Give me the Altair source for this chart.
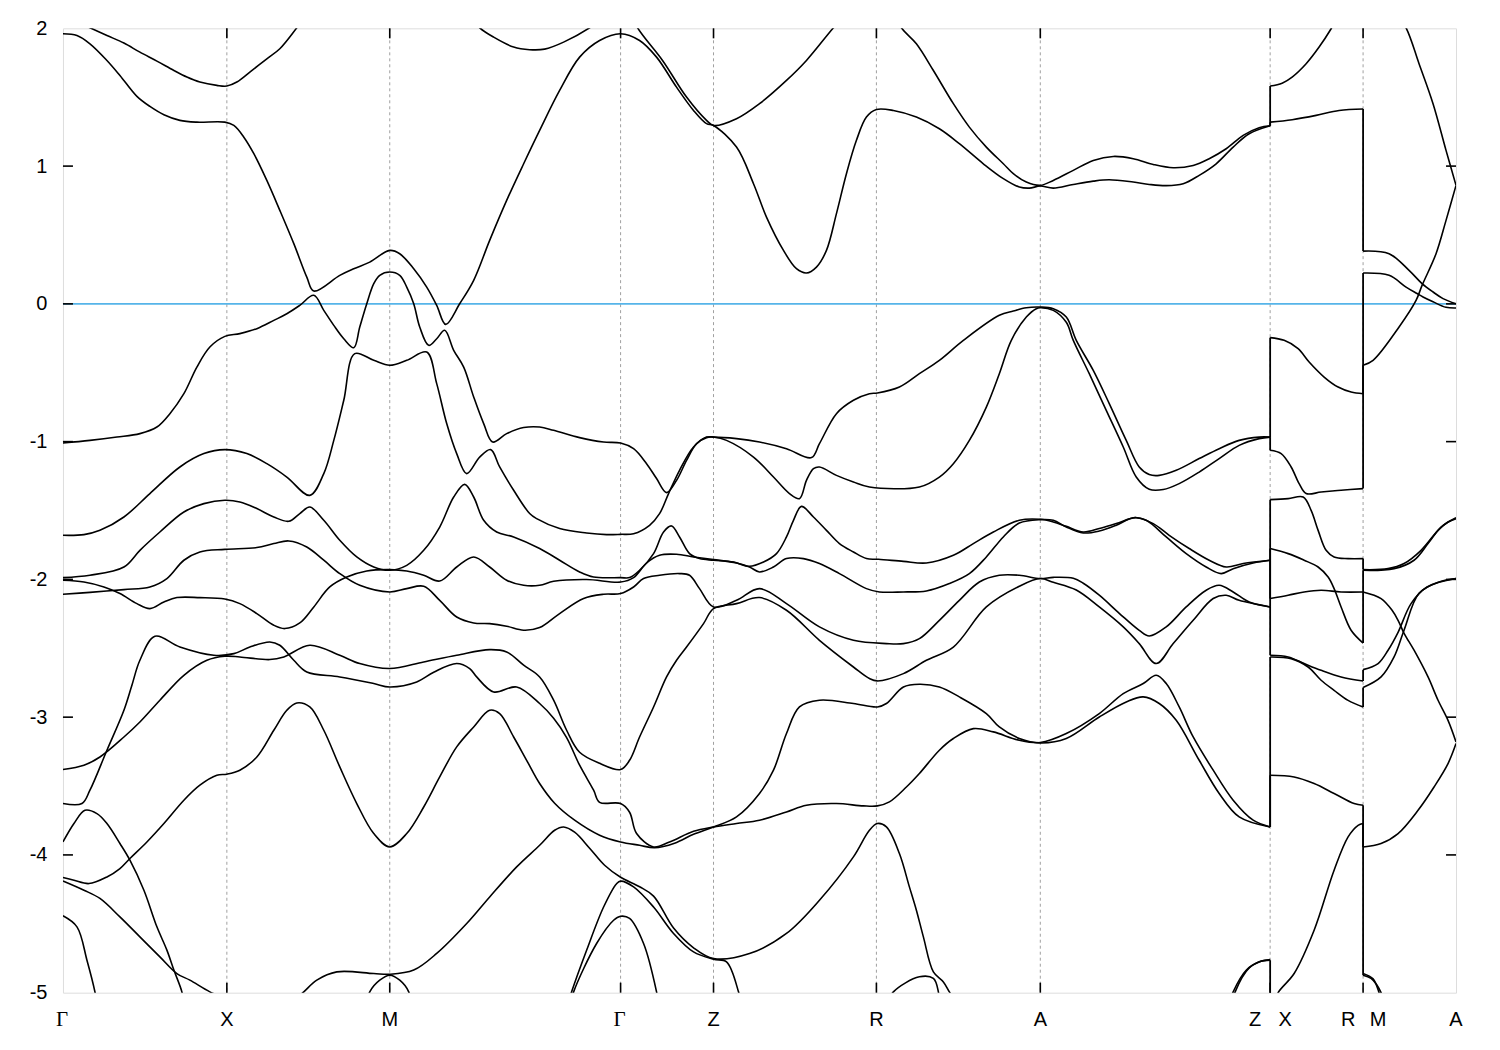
import altair as alt
import pandas as pd

# ---------------- data ----------------
# k: position along the k-path (arbitrary path-length units), E: energy (eV)
sym_k = [164, 327, 558, 651, 814, 978, 1208, 1301]          # interior high-symmetry points
ytick_vals = [-4, -3, -2, -1, 0, 1]

label_main = ["X", "M", "Z", "R", "A", "A"]
label_main_k = [164, 327, 651, 814, 978, 1394]
label_gamma = ["Γ", "Γ"]
label_gamma_k = [0, 558]
label_left = ["Z", "R"]
label_left_k = [1208, 1301]
label_right = ["X", "M"]
label_right_k = [1208, 1301]

band_01 = [(0,2.09),(27,2.004),(44,1.948),(61,1.893),(77,1.827),(94,1.762),(111,1.694),(124,1.646),(137,1.610),(154,1.586),(164,1.581),(174,1.610),(187,1.682),(204,1.779),(217,1.852),(234,2.004),(247,2.13)]
band_02 = [(0,1.961),(14,1.948),(27,1.888),(44,1.767),(57,1.658),(74,1.506),(87,1.433),(101,1.373),(117,1.332),(134,1.319),(162,1.319),(171,1.295),(181,1.210),(191,1.090),(204,0.896),(217,0.679),(231,0.437),(244,0.194),(251,0.093),(277,0.207),(291,0.255),(307,0.303),(327,0.388),(337,0.364),(351,0.255),(364,0.122),(374,-0.011),(383,-0.149),(397,0.001),(411,0.171),(427,0.461),(444,0.751),(461,1.017),(477,1.259),(497,1.549),(517,1.791),(537,1.912),(558,1.961),(577,1.912),(594,1.791),(614,1.573),(631,1.404),(644,1.308),(651,1.295),(674,1.138),(691,0.872),(704,0.630),(721,0.388),(734,0.255),(744,0.224),(754,0.267),(764,0.388),(774,0.655),(784,0.945),(794,1.187),(804,1.356),(814,1.411),(831,1.404),(854,1.356),(877,1.271),(897,1.163),(921,1.017),(941,0.909),(957,0.848),(967,0.840),(978,0.855),(991,0.840),(1011,0.867),(1031,0.891),(1047,0.901),(1071,0.884),(1087,0.867),(1104,0.858),(1121,0.872),(1137,0.933),(1154,1.017),(1171,1.138),(1187,1.235),(1208,1.293),(1208,1.319),(1230,1.337),(1254,1.368),(1277,1.404),(1301,1.414),(1301,0.383),(1327,0.364),(1347,0.243),(1360,0.147),(1371,0.086),(1381,0.038),(1394,0.0)]
band_03 = [(827,2.17),(839,2.004),(854,1.888),(871,1.694),(891,1.453),(907,1.283),(924,1.138),(941,1.017),(951,0.945),(964,0.884),(978,0.860),(991,0.896),(1011,0.969),(1031,1.041),(1051,1.070),(1071,1.054),(1091,1.012),(1111,0.988),(1131,1.005),(1147,1.054),(1164,1.126),(1181,1.223),(1197,1.279),(1208,1.293),(1208,1.581),(1220,1.602),(1230,1.646),(1244,1.743),(1257,1.864),(1269,1.997),(1282,2.17)]
band_04 = [(558,2.22),(567,2.13),(575,2.004),(600,1.767),(624,1.501),(644,1.332),(651,1.295),(674,1.344),(697,1.453),(724,1.622),(744,1.767),(771,2.004),(782,2.09)]
band_05 = [(407,2.09),(417,2.004),(431,1.936),(451,1.864),(467,1.845),(482,1.849),(501,1.90),(527,2.004),(537,2.06)]
band_06 = [(0,-1.010),(27,-0.991),(54,-0.967),(77,-0.942),(94,-0.894),(107,-0.797),(121,-0.652),(134,-0.459),(147,-0.313),(162,-0.236),(177,-0.216),(194,-0.180),(211,-0.120),(224,-0.072),(237,-0.011),(251,0.062),(261,-0.047),(271,-0.156),(281,-0.253),(291,-0.318),(297,-0.168),(304,0.001),(311,0.147),(317,0.207),(327,0.231),(337,0.207),(344,0.122),(351,0.001),(357,-0.168),(366,-0.301),(374,-0.253),(382,-0.192),(391,-0.337),(401,-0.459),(411,-0.676),(421,-0.869),(430,-1.003),(444,-0.942),(461,-0.898),(477,-0.894),(491,-0.918),(517,-0.971),(541,-1.003),(558,-1.010),(571,-1.051),(584,-1.160),(594,-1.268),(604,-1.370),(614,-1.281),(624,-1.136),(634,-1.015),(644,-0.971),(651,-0.967),(674,-0.978),(697,-1.003),(724,-1.051),(749,-1.116),(757,-1.015),(774,-0.797),(791,-0.700),(807,-0.652),(815,-0.647),(837,-0.604),(857,-0.507),(877,-0.410),(901,-0.265),(937,-0.083),(951,-0.052),(964,-0.028),(978,-0.023),(991,-0.035),(1004,-0.096),(1014,-0.265),(1031,-0.483),(1047,-0.724),(1064,-0.991),(1077,-1.184),(1087,-1.239),(1097,-1.245),(1114,-1.208),(1137,-1.123),(1157,-1.051),(1177,-0.991),(1197,-0.967),(1208,-0.967),(1208,-0.245),(1222,-0.265),(1236,-0.325),(1247,-0.422),(1262,-0.531),(1276,-0.604),(1289,-0.640),(1301,-0.652),(1301,0.224),(1327,0.207),(1344,0.122),(1355,0.075),(1361,0.05),(1371,0.015),(1384,-0.025),(1394,-0.03)]
band_07 = [(0,-1.680),(21,-1.675),(37,-1.644),(61,-1.547),(87,-1.377),(117,-1.184),(141,-1.087),(162,-1.058),(184,-1.087),(204,-1.160),(224,-1.257),(247,-1.390),(261,-1.232),(271,-0.991),(281,-0.700),(292,-0.361),(311,-0.410),(327,-0.446),(344,-0.410),(364,-0.350),(374,-0.579),(384,-0.869),(394,-1.087),(404,-1.232),(417,-1.112),(428,-1.058),(437,-1.184),(451,-1.353),(467,-1.522),(474,-1.559),(497,-1.631),(524,-1.663),(544,-1.675),(558,-1.673),(571,-1.668),(587,-1.607),(597,-1.523),(606,-1.377),(617,-1.208),(631,-1.039),(644,-0.967),(651,-0.967),(664,-0.991),(691,-1.112),(711,-1.257),(727,-1.377),(737,-1.414),(744,-1.281),(751,-1.196),(757,-1.184),(774,-1.245),(791,-1.293),(807,-1.329),(857,-1.329),(877,-1.257),(891,-1.160),(907,-0.991),(924,-0.749),(937,-0.507),(949,-0.265),(964,-0.096),(974,-0.035),(978,-0.028),(991,-0.047),(1004,-0.134),(1011,-0.265),(1027,-0.507),(1044,-0.773),(1061,-1.039),(1074,-1.257),(1087,-1.346),(1101,-1.348),(1117,-1.305),(1137,-1.221),(1157,-1.123),(1177,-1.027),(1197,-0.978),(1208,-0.967),(1208,-1.063),(1219,-1.087),(1229,-1.184),(1237,-1.305),(1244,-1.377),(1259,-1.366),(1279,-1.353),(1301,-1.341),(1301,-0.446),(1311,-0.41),(1337,-0.168),(1354,0.025),(1360,0.134),(1374,0.364),(1384,0.606),(1394,0.86)]
band_08 = [(0,-1.987),(27,-1.970),(61,-1.910),(77,-1.789),(97,-1.656),(121,-1.511),(141,-1.450),(162,-1.426),(177,-1.438),(194,-1.486),(211,-1.547),(226,-1.578),(237,-1.522),(247,-1.475),(261,-1.571),(277,-1.716),(294,-1.837),(311,-1.910),(327,-1.934),(344,-1.898),(361,-1.789),(377,-1.620),(391,-1.402),(402,-1.310),(411,-1.402),(421,-1.571),(434,-1.656),(451,-1.692),(477,-1.776),(497,-1.861),(517,-1.946),(531,-1.983),(558,-1.987),(567,-1.987),(577,-1.934),(591,-1.813),(601,-1.656),(609,-1.612),(617,-1.692),(627,-1.813),(637,-1.849),(651,-1.861),(671,-1.874),(687,-1.905),(701,-1.874),(714,-1.813),(724,-1.692),(731,-1.571),(739,-1.470),(751,-1.547),(764,-1.644),(777,-1.740),(791,-1.801),(804,-1.849),(816,-1.854),(841,-1.869),(864,-1.881),(891,-1.825),(911,-1.740),(931,-1.656),(957,-1.571),(978,-1.564),(991,-1.583),(1004,-1.615),(1021,-1.656),(1037,-1.631),(1054,-1.595),(1074,-1.552),(1091,-1.595),(1107,-1.680),(1127,-1.776),(1147,-1.861),(1164,-1.910),(1181,-1.885),(1208,-1.861),(1208,-1.421),(1226,-1.414),(1241,-1.402),(1249,-1.499),(1256,-1.644),(1264,-1.789),(1272,-1.837),(1286,-1.849),(1301,-1.849),(1301,-1.929),(1326,-1.922),(1342,-1.885),(1359,-1.789),(1376,-1.644),(1386,-1.583),(1394,-1.559)]
band_09 = [(0,-2.006),(21,-2.019),(41,-2.055),(57,-2.103),(74,-2.176),(87,-2.212),(101,-2.164),(114,-2.132),(137,-2.132),(162,-2.142),(177,-2.176),(194,-2.248),(211,-2.333),(222,-2.357),(237,-2.316),(251,-2.200),(267,-2.055),(284,-1.983),(304,-1.939),(327,-1.929),(344,-1.939),(361,-1.970),(377,-2.012),(394,-1.910),(411,-1.837),(427,-1.910),(444,-2.006),(461,-2.043),(477,-2.043),(491,-2.014),(524,-2.001),(558,-2.019),(571,-1.987),(584,-1.881),(597,-1.825),(614,-1.818),(631,-1.837),(651,-1.856),(674,-1.881),(687,-1.910),(697,-1.946),(711,-1.910),(724,-1.849),(741,-1.849),(757,-1.885),(777,-1.958),(804,-2.067),(817,-2.091),(841,-2.091),(864,-2.084),(887,-2.030),(907,-1.958),(924,-1.837),(941,-1.692),(957,-1.591),(978,-1.566),(991,-1.571),(1004,-1.620),(1021,-1.663),(1037,-1.649),(1054,-1.607),(1071,-1.552),(1084,-1.571),(1104,-1.692),(1124,-1.813),(1144,-1.910),(1159,-1.958),(1171,-1.922),(1191,-1.881),(1208,-1.861),(1208,-2.139),(1226,-2.115),(1242,-2.091),(1259,-2.079),(1279,-2.091),(1301,-2.091),(1301,-1.934),(1332,-1.922),(1352,-1.861),(1366,-1.740),(1379,-1.620),(1394,-1.552)]
band_10 = [(0,-2.108),(27,-2.094),(61,-2.074),(87,-2.055),(104,-1.994),(121,-1.861),(137,-1.801),(162,-1.782),(194,-1.769),(211,-1.740),(226,-1.721),(244,-1.765),(261,-1.861),(277,-1.958),(297,-2.043),(327,-2.091),(344,-2.067),(361,-2.050),(377,-2.152),(394,-2.273),(411,-2.316),(427,-2.321),(444,-2.340),(461,-2.369),(477,-2.350),(497,-2.248),(521,-2.139),(541,-2.108),(558,-2.103),(571,-2.055),(581,-1.994),(597,-1.970),(617,-1.958),(627,-1.970),(637,-2.067),(651,-2.200),(674,-2.152),(697,-2.067),(724,-2.176),(757,-2.345),(791,-2.442),(824,-2.466),(841,-2.466),(857,-2.430),(877,-2.297),(897,-2.152),(917,-2.019),(937,-1.970),(957,-1.970),(978,-1.994),(991,-1.985),(1011,-1.992),(1021,-2.028),(1037,-2.115),(1057,-2.246),(1077,-2.370),(1087,-2.411),(1104,-2.345),(1124,-2.200),(1144,-2.079),(1157,-2.043),(1171,-2.091),(1187,-2.164),(1208,-2.200),(1208,-1.776),(1226,-1.813),(1242,-1.861),(1256,-1.910),(1266,-1.983),(1272,-2.067),(1279,-2.200),(1289,-2.369),(1301,-2.462),(1301,-2.091),(1319,-2.139),(1330,-2.224),(1336,-2.297),(1342,-2.391),(1352,-2.514),(1366,-2.708),(1376,-2.877),(1386,-3.023),(1394,-3.180)]
band_11 = [(0,-3.380),(21,-3.349),(37,-3.289),(61,-3.144),(77,-3.035),(97,-2.877),(121,-2.696),(144,-2.587),(162,-2.558),(177,-2.563),(207,-2.582),(221,-2.563),(247,-2.478),(277,-2.551),(297,-2.611),(327,-2.647),(361,-2.599),(394,-2.551),(427,-2.510),(444,-2.527),(461,-2.623),(477,-2.708),(491,-2.877),(504,-3.095),(517,-3.255),(537,-3.335),(558,-3.380),(567,-3.313),(577,-3.144),(591,-2.926),(604,-2.708),(614,-2.587),(624,-2.491),(641,-2.321),(651,-2.212),(674,-2.176),(697,-2.132),(724,-2.224),(757,-2.442),(791,-2.636),(807,-2.720),(815,-2.737),(841,-2.684),(864,-2.587),(891,-2.491),(924,-2.200),(957,-2.050),(978,-1.994),(991,-2.021),(1014,-2.077),(1037,-2.200),(1061,-2.345),(1077,-2.466),(1094,-2.611),(1111,-2.466),(1131,-2.297),(1151,-2.139),(1164,-2.115),(1177,-2.152),(1208,-2.200),(1208,-2.551),(1226,-2.563),(1242,-2.611),(1259,-2.660),(1279,-2.708),(1301,-2.737),(1301,-2.655),(1316,-2.611),(1326,-2.514),(1336,-2.384),(1349,-2.176),(1365,-2.055),(1394,-1.994)]
band_12 = [(0,-3.627),(19,-3.627),(27,-3.530),(44,-3.240),(61,-2.950),(69,-2.768),(77,-2.587),(92,-2.413),(117,-2.491),(151,-2.551),(171,-2.539),(187,-2.491),(207,-2.454),(217,-2.478),(231,-2.587),(244,-2.672),(277,-2.708),(311,-2.756),(327,-2.781),(354,-2.745),(371,-2.674),(394,-2.611),(407,-2.647),(414,-2.708),(431,-2.817),(454,-2.781),(477,-2.901),(491,-3.008),(504,-3.148),(517,-3.349),(531,-3.530),(537,-3.618),(558,-3.627),(567,-3.690),(574,-3.845),(591,-3.942),(607,-3.906),(631,-3.828),(651,-3.797),(674,-3.772),(697,-3.748),(724,-3.688),(744,-3.639),(774,-3.627),(801,-3.644),(815,-3.644),(827,-3.615),(844,-3.507),(857,-3.409),(877,-3.240),(891,-3.155),(911,-3.083),(931,-3.107),(957,-3.168),(978,-3.184),(1004,-3.119),(1037,-2.974),(1061,-2.829),(1081,-2.756),(1094,-2.696),(1104,-2.756),(1117,-2.926),(1131,-3.144),(1151,-3.385),(1171,-3.603),(1191,-3.748),(1208,-3.797),(1208,-2.563),(1229,-2.575),(1246,-2.636),(1259,-2.732),(1272,-2.805),(1286,-2.878),(1301,-2.926),(1301,-2.785),(1319,-2.708),(1332,-2.563),(1342,-2.369),(1357,-2.101),(1377,-2.019),(1394,-1.994)]
band_13 = [(0,-4.164),(11,-4.184),(26,-4.208),(44,-4.160),(57,-4.099),(67,-4.026),(84,-3.906),(101,-3.772),(121,-3.603),(137,-3.494),(154,-3.422),(164,-3.414),(177,-3.385),(194,-3.289),(211,-3.095),(224,-2.950),(234,-2.897),(247,-2.926),(261,-3.095),(277,-3.361),(294,-3.627),(311,-3.845),(327,-3.942),(344,-3.845),(361,-3.652),(377,-3.434),(394,-3.216),(411,-3.071),(427,-2.950),(437,-2.974),(451,-3.144),(464,-3.313),(477,-3.482),(492,-3.625),(512,-3.748),(537,-3.857),(558,-3.906),(577,-3.930),(592,-3.948),(612,-3.915),(631,-3.850),(651,-3.797),(674,-3.724),(697,-3.554),(711,-3.385),(724,-3.119),(737,-2.926),(757,-2.877),(791,-2.901),(815,-2.926),(824,-2.901),(841,-2.781),(857,-2.761),(877,-2.781),(897,-2.853),(924,-2.974),(937,-3.071),(957,-3.155),(978,-3.187),(1004,-3.155),(1037,-2.999),(1064,-2.890),(1081,-2.853),(1097,-2.901),(1114,-3.023),(1137,-3.313),(1157,-3.554),(1177,-3.724),(1208,-3.797),(1208,-3.422),(1232,-3.434),(1252,-3.482),(1272,-3.554),(1292,-3.627),(1301,-3.639),(1301,-3.942),(1319,-3.917),(1336,-3.845),(1356,-3.676),(1372,-3.507),(1386,-3.337),(1394,-3.192)]
band_14 = [(232,-5.05),(241,-4.994),(254,-4.909),(274,-4.849),(311,-4.861),(327,-4.866),(351,-4.836),(374,-4.715),(404,-4.498),(427,-4.305),(454,-4.087),(477,-3.930),(492,-3.821),(501,-3.797),(512,-3.835),(527,-3.951),(542,-4.075),(558,-4.162),(577,-4.231),(591,-4.299),(611,-4.531),(631,-4.674),(651,-4.752),(687,-4.716),(724,-4.570),(757,-4.329),(791,-4.014),(807,-3.821),(815,-3.772),(824,-3.797),(837,-3.990),(847,-4.232),(854,-4.401),(861,-4.595),(871,-4.849),(881,-4.922),(887,-4.994),(892,-5.05)]
band_15 = [(505,-5.09),(509,-4.994),(524,-4.692),(541,-4.378),(554,-4.209),(558,-4.190),(571,-4.232),(591,-4.378),(611,-4.570),(631,-4.704),(651,-4.757),(664,-4.776),(676,-4.994),(679,-5.09)]
band_16 = [(508,-5.08),(511,-4.994),(534,-4.643),(551,-4.474),(558,-4.445),(567,-4.461),(581,-4.643),(594,-4.994),(596,-5.08)]
band_17 = [(825,-5.08),(831,-4.994),(857,-4.885),(871,-4.897),(876,-4.994),(877,-5.08)]
band_18 = [(1167,-5.08),(1171,-4.994),(1184,-4.837),(1197,-4.776),(1208,-4.764),(1208,-5.1)]
band_19 = [(1170,-5.08),(1173,-4.994),(1187,-4.82),(1199,-4.772),(1208,-4.76)]
band_20 = [(1213,-5.08),(1216,-5.0),(1232,-4.861),(1252,-4.547),(1272,-4.111),(1286,-3.869),(1296,-3.785),(1301,-3.772),(1301,-4.873),(1309,-4.897),(1319,-5.0),(1322,-5.08)]
band_21 = [(1301,-4.86),(1311,-4.9),(1317,-5.0),(1320,-5.08)]
band_22 = [(0,-3.906),(11,-3.772),(22,-3.676),(34,-3.700),(44,-3.772),(57,-3.917),(67,-4.038),(81,-4.256),(94,-4.522),(104,-4.691),(111,-4.836),(119,-4.994),(121,-5.08)]
band_23 = [(0,-4.189),(21,-4.256),(37,-4.316),(57,-4.450),(77,-4.595),(97,-4.740),(114,-4.861),(127,-4.909),(147,-4.994),(162,-5.04)]
band_24 = [(0,-4.442),(14,-4.522),(24,-4.764),(32,-4.994),(34,-5.08)]
band_25 = [(304,-5.08),(307,-4.994),(317,-4.909),(327,-4.873),(337,-4.909),(346,-4.994),(348,-5.08)]
band_26 = [(1320,2.45),(1332,2.13),(1344,2.004),(1357,1.743),(1371,1.453),(1384,1.114),(1394,0.86)]

bands = [band_01, band_02, band_03, band_04, band_05, band_06, band_07, band_08, band_09,
         band_10, band_11, band_12, band_13, band_14, band_15, band_16, band_17, band_18,
         band_19, band_20, band_21, band_22, band_23, band_24, band_25, band_26]

# split each band into smooth pieces and the vertical jumps at the path breaks
smooth_rows, jump_rows = [], []
piece = 0
jump_id = 0
for pts in bands:
    cur = [pts[0]]
    for p in pts[1:]:
        if p[0] == cur[-1][0]:
            for i, (k, e) in enumerate(cur):
                smooth_rows.append({"piece": piece, "i": i, "k": k, "E": e})
            piece += 1
            jump_rows.append({"piece": jump_id, "i": 0, "k": cur[-1][0], "E": cur[-1][1]})
            jump_rows.append({"piece": jump_id, "i": 1, "k": p[0], "E": p[1]})
            jump_id += 1
            cur = [p]
        else:
            cur.append(p)
    for i, (k, e) in enumerate(cur):
        smooth_rows.append({"piece": piece, "i": i, "k": k, "E": e})
    piece += 1

df_s = pd.DataFrame(smooth_rows)
df_j = pd.DataFrame(jump_rows)

W, H = 1394, 965
xs = alt.Scale(domain=[0, 1394], nice=False, zero=False)
ys = alt.Scale(domain=[-5, 2], nice=False, zero=False)

sym_df = pd.DataFrame({"k": sym_k})
ytick_df = pd.DataFrame({"E": ytick_vals})

grid = alt.Chart(sym_df).mark_rule(color="#a0a0a0", strokeWidth=1, strokeDash=[3, 3]).encode(
    x=alt.X("k:Q", scale=xs, axis=None))
fermi = alt.Chart(pd.DataFrame({"E": [0]})).mark_rule(color="#56B4E9", strokeWidth=1.7).encode(
    y=alt.Y("E:Q", scale=ys))

lines = alt.Chart(df_s).mark_line(color="black", strokeWidth=1.6, clip=True,
                                  interpolate="catmull-rom", strokeJoin="round").encode(
    x=alt.X("k:Q", scale=xs, axis=None),
    y=alt.Y("E:Q", scale=ys, axis=alt.Axis(values=[-5, -4, -3, -2, -1, 0, 1, 2], labelExpr="'' + datum.value",
                                            ticks=False, tickSize=0, domain=False, grid=False, labelFontSize=20,
                                            labelFont="Liberation Sans", labelColor="black", labelPadding=16,
                                            title=None)),
    detail="piece:N",
    order="i:Q",
)
jumps = alt.Chart(df_j).mark_line(color="black", strokeWidth=1.8, clip=True).encode(
    x=alt.X("k:Q", scale=xs, axis=None),
    y=alt.Y("E:Q", scale=ys),
    detail="piece:N",
    order="i:Q",
)

tick_top = alt.Chart(sym_df).mark_rule(color="black", strokeWidth=1.6).encode(
    x="k:Q", y=alt.value(0), y2=alt.value(10))
tick_bot = alt.Chart(sym_df).mark_rule(color="black", strokeWidth=1.6).encode(
    x="k:Q", y=alt.value(H), y2=alt.value(H - 10))
tick_left = alt.Chart(ytick_df).mark_rule(color="black", strokeWidth=1.6).encode(
    y="E:Q", x=alt.value(0), x2=alt.value(10))
tick_right = alt.Chart(ytick_df).mark_rule(color="black", strokeWidth=1.6).encode(
    y="E:Q", x=alt.value(W), x2=alt.value(W - 10))

LY = H + 27
lab_main = alt.Chart(pd.DataFrame({"k": label_main_k, "t": label_main})).mark_text(
    fontSize=20, font="Liberation Sans", color="black", baseline="middle", align="center").encode(
    x="k:Q", y=alt.value(LY), text="t:N")
lab_gamma = alt.Chart(pd.DataFrame({"k": label_gamma_k, "t": label_gamma})).mark_text(
    fontSize=21, font="Liberation Serif", color="black", baseline="middle", align="center", dx=-1).encode(
    x="k:Q", y=alt.value(LY), text="t:N")
lab_left = alt.Chart(pd.DataFrame({"k": label_left_k, "t": label_left})).mark_text(
    fontSize=20, font="Liberation Sans", color="black", baseline="middle", align="center", dx=-15).encode(
    x="k:Q", y=alt.value(LY), text="t:N")
lab_right = alt.Chart(pd.DataFrame({"k": label_right_k, "t": label_right})).mark_text(
    fontSize=20, font="Liberation Sans", color="black", baseline="middle", align="center", dx=15).encode(
    x="k:Q", y=alt.value(LY), text="t:N")

chart = alt.layer(grid, fermi, lines, jumps, tick_top, tick_bot, tick_left, tick_right,
                  lab_main, lab_gamma, lab_left, lab_right).properties(
    width=W, height=H,
    padding={"left": 55, "top": 20, "right": 36, "bottom": 50},
    autosize=alt.AutoSizeParams(type="none"),
).configure_view(stroke="black", strokeWidth=2).configure(background="white")

chart.save("out.html", embed_options={"renderer": "svg", "actions": False})
